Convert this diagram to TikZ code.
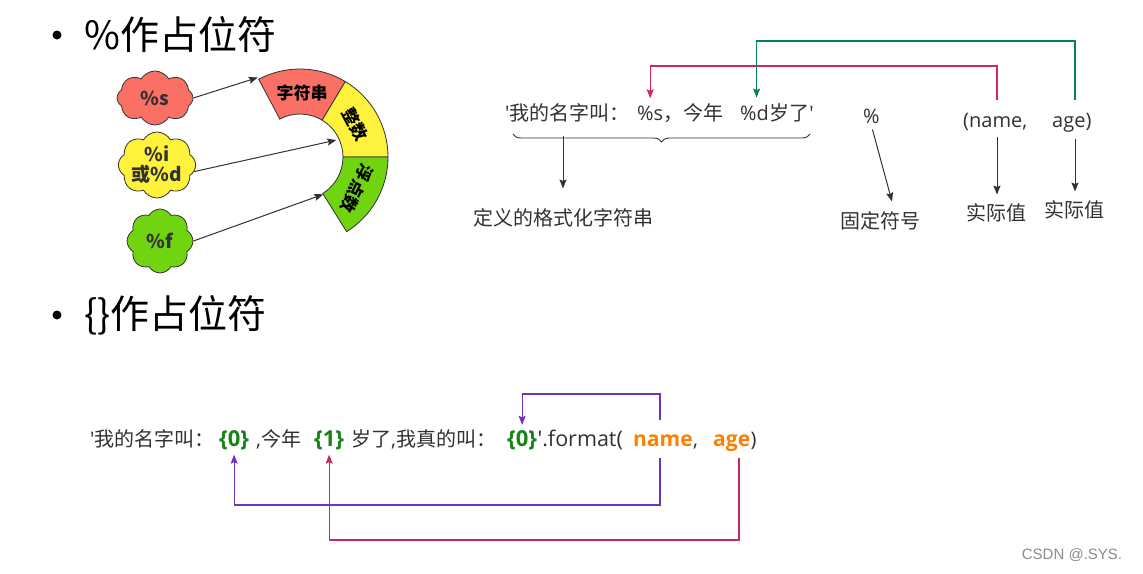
\documentclass[tikz,border=0pt]{standalone}
\usepackage{fontspec}
\setmainfont{Open Sans}
\newfontfamily\cjk{Noto Sans CJK SC}
\newfontfamily\wmfont{Liberation Sans}
\usetikzlibrary{shapes.symbols,arrows.meta,decorations.pathreplacing,calc}
\definecolor{cred}{RGB}{250,112,100}
\definecolor{cyel}{RGB}{255,242,60}
\definecolor{cgrn}{RGB}{112,212,16}
\definecolor{lred}{RGB}{214,36,92}
\definecolor{lgrn}{RGB}{0,132,84}
\definecolor{lpur}{RGB}{112,48,196}
\definecolor{lcrm}{RGB}{196,40,96}
\definecolor{tgrn}{RGB}{24,130,24}
\definecolor{torg}{RGB}{255,128,0}
\definecolor{ink}{RGB}{50,50,50}
\newcommand{\sq}{\textquotesingle}
\newcommand{\C}[1]{{\cjk #1}}
\begin{document}
\begin{tikzpicture}[x=1pt,y=-1pt,
  seg/.style={draw=ink, line width=0.8pt},
  cloudbox/.style={cloud, cloud puffs=8, cloud puff arc=120, cloud ignores aspect, draw=ink, line width=0.8pt,
    inner sep=0pt, align=center, font=\cjk\bfseries\fontsize{19}{20}\selectfont, text=ink},
  arr/.style={-{Stealth[length=9pt,width=7pt,inset=1.5pt]}, draw=ink, line width=1pt},
  carr/.style={-{Stealth[length=9pt,width=7pt,inset=1.5pt]}, line width=1.1pt},
  code/.style={inner sep=0pt, anchor=base west, font=\fontsize{20}{22}\selectfont, text=ink},
  lab/.style={font=\cjk\fontsize{20}{22}\selectfont, text=ink, inner sep=0pt},
  head/.style={font=\cjk\fontsize{39}{44}\selectfont, text=black, inner sep=0pt, anchor=west},
  dot/.style={circle, fill=black, inner sep=0pt, minimum size=9pt},
  segtext/.style={font=\cjk\bfseries\fontsize{17}{19}\selectfont, text=black, inner sep=0pt},
  hl/.style={font=\bfseries\fontsize{21}{22}\selectfont},
  ph/.style={font=\bfseries\fontsize{22}{22}\selectfont, text=tgrn}
]
\useasboundingbox[fill=white] (0,0) rectangle (1143,573);

% headings
\node[dot] (d1) at (57,35) {};
\node[head] (h1) at (84,35) {\%作占位符};
\node[dot] (d2) at (57,315) {};
\node[head] (h2) at (84,315) {\{\}作占位符};

% ring segments
\begin{scope}[shift={(300,157)}]
  \path[seg, fill=cred] (-118:88) arc[start angle=-118, end angle=-59, radius=88]
     -- (-59:43) arc[start angle=-59, end angle=-118, radius=43] -- cycle;
  \path[seg, fill=cyel] (-59:88) arc[start angle=-59, end angle=0, radius=88]
     -- (0:43) arc[start angle=0, end angle=-59, radius=43] -- cycle;
  \path[seg, fill=cgrn] (0:88) arc[start angle=0, end angle=58, radius=88]
     -- (58:43) arc[start angle=58, end angle=0, radius=43] -- cycle;
  \node[segtext] (sg1) at (-88:64) {字符串};
  \node[segtext, rotate=-62] (sg2) at (-31:64) {整数};
  \node[segtext, rotate=-116] (sg3) at (29:65) {浮点数};
  \coordinate (e1) at (-118:90);
  \coordinate (e2) at (-25:40);
  \coordinate (e3) at (58:44);
\end{scope}

% clouds
\node[cloudbox, fill=cred, minimum width=76pt, minimum height=54pt] (c1) at (155,98) {\%s};
\node[cloudbox, fill=cyel, minimum width=68pt, minimum height=66pt] (c2) at (157,165) {\%i\\或\%d};
\node[cloudbox, fill=cgrn, minimum width=66pt, minimum height=64pt] (c3) at (160,241) {\%f};
\draw[arr] (c1.east) -- (e1);
\draw[arr] (c2.-10) -- (e2);
\draw[arr] (c3.east) -- (e3);

% top-right format string
\node[code] (s1) at (505,120) {\sq\C{我的名字叫：}};
\node[code] (ps) at (637,120) {\%s};
\node[code] (s2) at (ps.base east) {\C{，今年}};
\node[code] (pd) at (740,120) {\%d};
\node[code] (s3) at (pd.base east) {\C{岁了}\sq};

\coordinate (bl) at (513,134);
\coordinate (br) at (810,134);
\draw[ink, line width=0.9pt, decorate, decoration={brace, mirror, amplitude=8pt}] (bl) -- (br);
\coordinate (bk) at (563,136);
\node[lab] (l1) at (563,218) {定义的格式化字符串};
\draw[arr, shorten >=20pt] (bk) -- (l1.north);

\node[code] (pc) at (863,123) {\%};
\node[lab] (l2) at (880,221) {固定符号};
\coordinate (pcs) at ($(pc.south)+(1,6)$);
\coordinate (l2n) at ($(l2.north)+(12,-10)$);
\draw[arr] (pcs) -- (l2n);

\node[code] (v1) at (963,127) {(name,};
\node[code] (ag2) at (1052,127) {age)};
\coordinate (nmx) at (997,0);
\coordinate (agx) at (1075,0);
\node[lab] (l3) at (996,213) {实际值};
\node[lab] (l4) at (1074,210) {实际值};
\coordinate (n2s) at (nmx |- v1.south);
\coordinate (a2s) at (agx |- ag2.south);
\draw[arr, shorten <=7pt, shorten >=9pt] (n2s) -- (n2s |- l3.north);
\draw[arr, shorten <=7pt, shorten >=9pt] (a2s) -- (a2s |- l4.north);

\coordinate (ry) at (0,66);
\coordinate (gy) at (0,41);
\coordinate (n2t) at (997,100);
\coordinate (a2t) at (1075,100);
\coordinate (pdt) at ($(pd.north)+(2,0)$);
\draw[carr, draw=lred, shorten >=7pt] (n2t) -- (n2t |- ry) -| (ps.north);
\draw[carr, draw=lgrn, shorten >=7pt] (a2t) -- (a2t |- gy) -| (pdt);

% bottom line
\begin{scope}[every node/.style={code}]
\node (b1) at (90,446) {\sq\C{我的名字叫：}};
\node[ph] (z0a) at (219,446) {\{0\}};
\node (b3) at (256,446) {,\C{今年}};
\node[ph] (z1) at (314,446) {\{1\}};
\node (b5) at (351,446) {\C{岁了},\C{我真的叫：}};
\node[ph] (z0b) at (507,446) {\{0\}};
\node[font=\fontsize{21.5}{22}\selectfont] (b7) at (z0b.base east) {\sq.format(};
\node[hl] (nm) at (633,446) {\textcolor{torg}{name}};
\node (b9) at (nm.base east) {,};
\node[hl] (ag) at (713,446) {\textcolor{torg}{age}};
\node (b11) at (ag.base east) {)};
\end{scope}

\coordinate (py1) at (0,394);
\coordinate (py2) at (0,505);
\coordinate (cy) at (0,540);
\coordinate (nmt) at (660,420);
\coordinate (nmb) at (660,458);
\coordinate (agb) at (739,458);
\draw[carr, draw=lpur, shorten >=5pt] (nmt) -- (nmt |- py1) -| (z0b.north);
\draw[carr, draw=lpur, shorten >=5pt] (nmb) -- (nmb |- py2) -| (z0a.south);
\draw[carr, draw=lcrm, shorten >=5pt] (agb) -- (agb |- cy) -| (z1.south);

\node[font=\wmfont\fontsize{15}{17}\selectfont, text=black!45, inner sep=0pt] (wm) at (1072,555) {CSDN @.SYS.};
\end{tikzpicture}
\end{document}
